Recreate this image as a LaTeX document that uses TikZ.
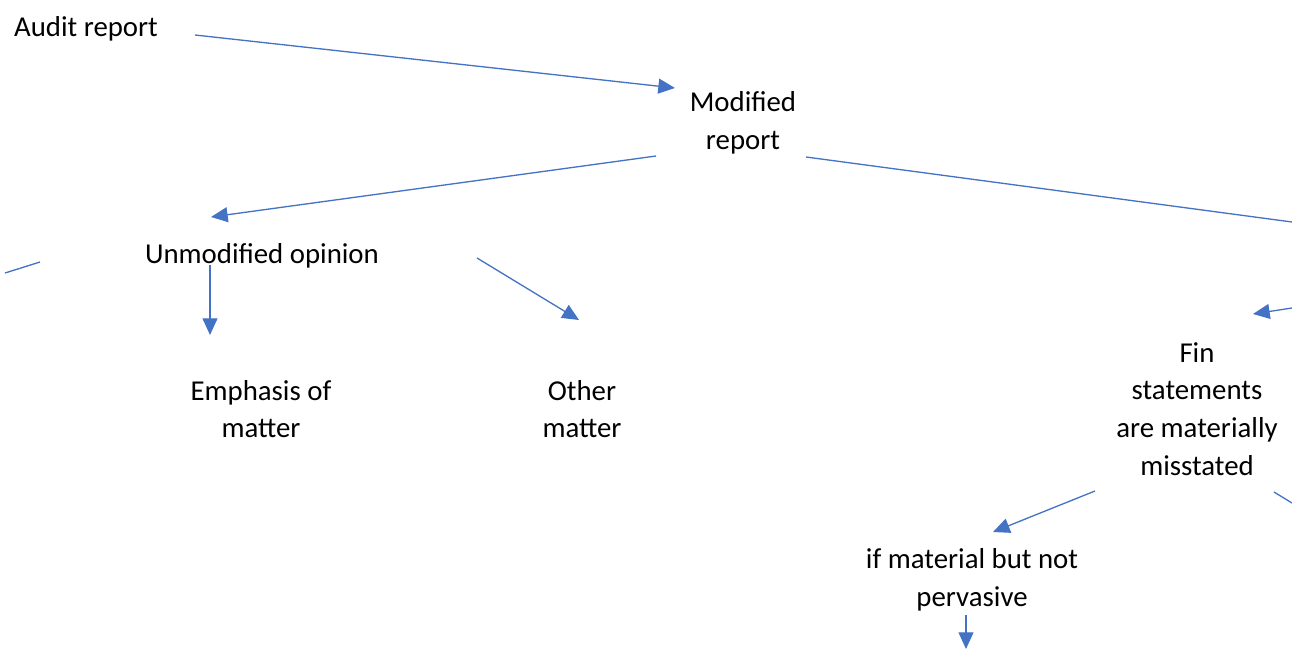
\documentclass[tikz,border=0pt]{standalone}
\usepackage{fontspec}
\setmainfont{Carlito}
\usepackage{tikz}
\usetikzlibrary{arrows.meta,calc,positioning}
\definecolor{linkblue}{HTML}{4472C4}
\tikzset{
	lbl/.style={align=center,inner sep=0pt,font=\fontsize{16.4}{21.5}\selectfont},
	link/.style={draw=linkblue,line width=0.75pt,-{Triangle[length=9.5pt,width=8.5pt]}},
	stub/.style={draw=linkblue,line width=0.75pt}
}

\begin{document}
\begin{tikzpicture}[x=0.02cm,y=-0.02cm]
		\useasboundingbox (0,0) rectangle (1292,649);
		\begin{scope}
			\node(audit) [lbl] at (86,29) {Audit report};
			\node(modified) [lbl] at (743,123) {Modified\\report};
			\node(unmod) [lbl] at (262,256) {Unmodified opinion};
			\node(emph) [lbl] at (261,409) {Emphasis of\\matter};
			\node(other) [lbl] at (582,409) {Other\\matter};
			\node(misst) [lbl] at (1197,409) {Fin\\statements\\are materially\\misstated};
			\node(notpv) [lbl] at (972,580) {if material but not\\pervasive};
			% loose ends running off the page
			\coordinate (offL) at (5,273);
			\coordinate (offR1) at (1292,222);
			\coordinate (offR2) at (1292,308);
			\coordinate (offR3) at (1292,503);
			\coordinate (offB) at (966,649);
			\draw[link] ([shift={(109,6)}]audit.center) -- ([shift={(-68,-35)}]modified.center);
			\draw[link] ([shift={(-87,33)}]modified.center) -- ([shift={(-51,-39)}]unmod.center);
			\draw[stub] ([shift={(63,34)}]modified.center) -- (offR1);
			\draw[stub] (offL) -- ([shift={(-222,6)}]unmod.center);
			\draw[link] ([shift={(-52,9)}]unmod.center) -- ([shift={(-51,-74)}]emph.center);
			\draw[link] ([shift={(215,2)}]unmod.center) -- ([shift={(-3,-89)}]other.center);
			\draw[link] (offR2) -- ([shift={(56,-95)}]misst.center);
			\draw[link] ([shift={(-102,82)}]misst.center) -- ([shift={(21,-48)}]notpv.center);
			\draw[stub] ([shift={(77,83)}]misst.center) -- (offR3);
			\draw[link] ([shift={(-6,35)}]notpv.center) -- (offB);
		\end{scope}
	\end{tikzpicture}
\end{document}
